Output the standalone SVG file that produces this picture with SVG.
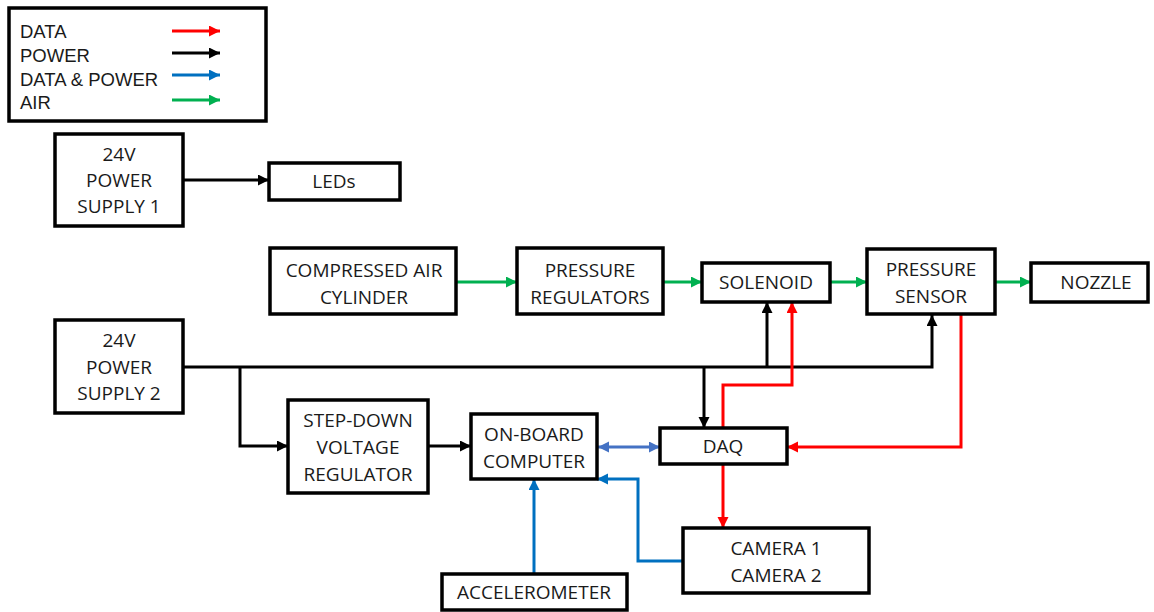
<svg xmlns="http://www.w3.org/2000/svg" width="1154" height="612" viewBox="0 0 1154 612">
<style>
.box{fill:#fff;stroke:#000;stroke-width:3.5}
text{font-family:"Open Sans","Liberation Sans",sans-serif;font-size:19px;fill:#1a1a1a;text-anchor:middle}
.lg{text-anchor:start;font-family:"Liberation Sans","Open Sans",sans-serif;font-size:18.5px}
.c{fill:none;stroke-width:3;stroke-linejoin:miter}
.k{stroke:#000}
.r{stroke:#FF0000}
.b{stroke:#0070C0}
.b2{stroke:#4472C4}
.g{stroke:#00B050}
</style>
<defs>
<marker id="ak" markerUnits="userSpaceOnUse" markerWidth="12" markerHeight="12" refX="11" refY="5.5" orient="auto"><path d="M0,0 L11,5.5 L0,11 z" fill="#000"/></marker>
<marker id="ar" markerUnits="userSpaceOnUse" markerWidth="12" markerHeight="12" refX="11" refY="5.5" orient="auto"><path d="M0,0 L11,5.5 L0,11 z" fill="#FF0000"/></marker>
<marker id="ab" markerUnits="userSpaceOnUse" markerWidth="12" markerHeight="12" refX="11" refY="5.5" orient="auto"><path d="M0,0 L11,5.5 L0,11 z" fill="#0070C0"/></marker>
<marker id="ab2" markerUnits="userSpaceOnUse" markerWidth="12" markerHeight="12" refX="11" refY="5.5" orient="auto-start-reverse"><path d="M0,0 L11,5.5 L0,11 z" fill="#4472C4"/></marker>
<marker id="ag" markerUnits="userSpaceOnUse" markerWidth="12" markerHeight="12" refX="11" refY="5.5" orient="auto"><path d="M0,0 L11,5.5 L0,11 z" fill="#00B050"/></marker>
</defs>
<rect width="1154" height="612" fill="#fff"/>

<g id="legend">
<rect class="box" x="9" y="8" width="257" height="113"/>
<text class="lg" x="20" y="38">DATA</text>
<text class="lg" x="20" y="62">POWER</text>
<text class="lg" x="20" y="86">DATA &amp; POWER</text>
<text class="lg" x="20" y="109">AIR</text>
<line class="c r" x1="172" y1="31" x2="220" y2="31" marker-end="url(#ar)"/>
<line class="c k" x1="172" y1="53" x2="220" y2="53" marker-end="url(#ak)"/>
<line class="c b" x1="172" y1="75" x2="220" y2="75" marker-end="url(#ab)"/>
<line class="c g" x1="172" y1="100" x2="220" y2="100" marker-end="url(#ag)"/>
</g>

<g id="connectors">
<path class="c k" d="M183,180 L269,180" marker-end="url(#ak)"/>
<path class="c g" d="M456,282 L517,282" marker-end="url(#ag)"/>
<path class="c g" d="M663,282 L702,282" marker-end="url(#ag)"/>
<path class="c g" d="M830,282 L867,282" marker-end="url(#ag)"/>
<path class="c g" d="M995,282 L1031,282" marker-end="url(#ag)"/>
<path class="c k" d="M183,367 L932,367 L932,315" marker-end="url(#ak)"/>
<path class="c k" d="M767,367 L767,302" marker-end="url(#ak)"/>
<path class="c k" d="M704,367 L704,428" marker-end="url(#ak)"/>
<path class="c k" d="M240,367 L240,446 L288,446" marker-end="url(#ak)"/>
<path class="c k" d="M428,446 L471,446" marker-end="url(#ak)"/>
<path class="c b2" d="M598,447 L660,447" marker-start="url(#ab2)" marker-end="url(#ab2)"/>
<path class="c r" d="M723,428 L723,385 L792,385 L792,302" marker-end="url(#ar)"/>
<path class="c r" d="M961,314 L961,447 L787,447" marker-end="url(#ar)"/>
<path class="c r" d="M723,464 L723,528" marker-end="url(#ar)"/>
<path class="c b" d="M683,561 L638,561 L638,479 L597,479" marker-end="url(#ab)"/>
<path class="c b" d="M534,574 L534,479" marker-end="url(#ab)"/>
</g>

<g id="ps1">
<rect class="box" x="55" y="134" width="128" height="92"/>
<text x="119" y="161">24V</text>
<text x="119" y="187">POWER</text>
<text x="119" y="213">SUPPLY 1</text>
</g>
<g id="leds">
<rect class="box" x="269" y="163" width="131" height="37"/>
<text x="334" y="188">LEDs</text>
</g>
<g id="air">
<rect class="box" x="270" y="248" width="186" height="66"/>
<text x="364" y="277">COMPRESSED AIR</text>
<text x="364" y="304">CYLINDER</text>
</g>
<g id="regulators">
<rect class="box" x="517" y="248" width="146" height="66"/>
<text x="590" y="277">PRESSURE</text>
<text x="590" y="304">REGULATORS</text>
</g>
<g id="solenoid">
<rect class="box" x="702" y="263" width="128" height="39"/>
<text x="766" y="289">SOLENOID</text>
</g>
<g id="sensor">
<rect class="box" x="867" y="249" width="128" height="65"/>
<text x="931" y="276">PRESSURE</text>
<text x="931" y="303">SENSOR</text>
</g>
<g id="nozzle">
<rect class="box" x="1031" y="263" width="117" height="39"/>
<text x="1096" y="289">NOZZLE</text>
</g>
<g id="ps2">
<rect class="box" x="55" y="320" width="128" height="93"/>
<text x="119" y="347">24V</text>
<text x="119" y="374">POWER</text>
<text x="119" y="400">SUPPLY 2</text>
</g>
<g id="stepdown">
<rect class="box" x="288" y="400" width="140" height="93"/>
<text x="358" y="427">STEP-DOWN</text>
<text x="358" y="454">VOLTAGE</text>
<text x="358" y="481">REGULATOR</text>
</g>
<g id="computer">
<rect class="box" x="471" y="414" width="126" height="65"/>
<text x="534" y="441">ON-BOARD</text>
<text x="534" y="468">COMPUTER</text>
</g>
<g id="daq">
<rect class="box" x="660" y="428" width="127" height="36"/>
<text x="723" y="453">DAQ</text>
</g>
<g id="cameras">
<rect class="box" x="683" y="528" width="186" height="65"/>
<text x="776" y="555">CAMERA 1</text>
<text x="776" y="582">CAMERA 2</text>
</g>
<g id="accelerometer">
<rect class="box" x="442" y="574" width="185" height="36"/>
<text x="534" y="599">ACCELEROMETER</text>
</g>
</svg>
